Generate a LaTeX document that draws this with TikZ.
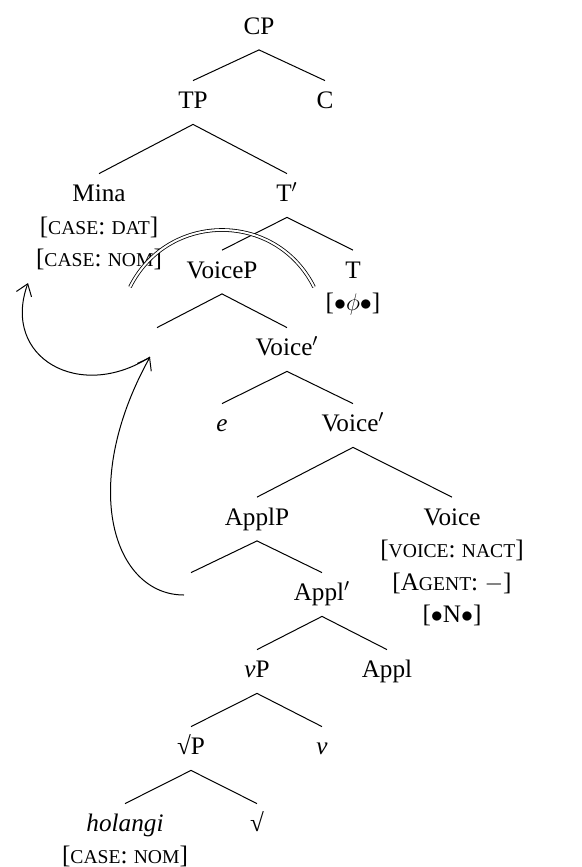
\documentclass[tikz,border=0pt]{standalone}
\usepackage{fontspec}
\setmainfont{Liberation Serif}
\usetikzlibrary{arrows.meta}

\newcommand{\fsc}[1]{{\fontsize{9.8}{11}\selectfont #1}}

\begin{document}
\begin{tikzpicture}[
    x=0.5pt, y=-0.5pt,
    tnode/.style={anchor=base, inner sep=0pt, text height=13.75pt, text depth=7.75pt, font=\fontsize{12.6}{15.5}\selectfont},
    feat/.style={anchor=base, inner sep=0pt, font=\fontsize{12.6}{15.5}\selectfont},
    branch/.style={line width=0.5pt},
    move/.style={-{Straight Barb[length=5.5pt,width=8pt]}, line width=0.5pt},
    agree/.style={double, double distance=1pt, line width=0.4pt}
]
\useasboundingbox (0,0) rectangle (582,867);

% Noeuds
\node[tnode] (cp) at (259,34) {CP};
\node[tnode] (tp) at (193,108.5) {TP};
\node[tnode] (c) at (325,108.5) {C};
\node[tnode] (mina) at (99,201.5) {Mina};
\node[tnode] (tbar) at (287,201.5) {T$'$};
\node[tnode] (voicep) at (222,278) {VoiceP};
\node[tnode] (t) at (353,278) {T};
\node[tnode] (vspec) at (157,355.5) {};
\node[tnode] (voicebar) at (287,355.5) {Voice$'$};
\node[tnode] (e) at (222,431.5) {\textit{e}};
\node[tnode] (voicebarb) at (353,431.5) {Voice$'$};
\node[tnode] (applp) at (257,525) {ApplP};
\node[tnode] (voice) at (452,525) {Voice};
\node[tnode] (aspec) at (191,600.5) {};
\node[tnode] (applbar) at (322,600.5) {Appl$'$};
\node[tnode] (vp) at (257,677.5) {\textit{v}P};
\node[tnode] (appl) at (387,677.5) {Appl};
\node[tnode] (rootp) at (191,754.5) {√P};
\node[tnode] (v) at (322,754.5) {\textit{v}};
\node[tnode] (holangi) at (125,831.5) {\textit{holangi}};
\node[tnode] (root) at (257,831.5) {√};

% Traits
\node[feat] (minadat) at (99,234) {[\fsc{CASE}: \fsc{DAT}]};
\node[feat] (minanom) at (99,266) {[\fsc{CASE}: \fsc{NOM}]};
\node[feat] (tphi) at (353,310.5) {[$\bullet\phi\bullet$]};
\node[feat] (voicenact) at (452,557.5) {[\fsc{VOICE}: \fsc{NACT}]};
\node[feat] (voiceagent) at (452,590) {[A\fsc{GENT}: $-$]};
\node[feat] (voicen) at (452,622.5) {[$\bullet$N$\bullet$]};
\node[feat] (holnom) at (125,863) {[\fsc{CASE}: \fsc{NOM}]};

% Branches
\draw[branch] (cp.south) -- (tp.north);
\draw[branch] (cp.south) -- (c.north);
\draw[branch] (tp.south) -- (mina.north);
\draw[branch] (tp.south) -- (tbar.north);
\draw[branch] (tbar.south) -- (voicep.north);
\draw[branch] (tbar.south) -- (t.north);
\draw[branch] (voicep.south) -- (vspec.north);
\draw[branch] (voicep.south) -- (voicebar.north);
\draw[branch] (voicebar.south) -- (e.north);
\draw[branch] (voicebar.south) -- (voicebarb.north);
\draw[branch] (voicebarb.south) -- (applp.north);
\draw[branch] (voicebarb.south) -- (voice.north);
\draw[branch] (applp.south) -- (aspec.north);
\draw[branch] (applp.south) -- (applbar.north);
\draw[branch] (applbar.south) -- (vp.north);
\draw[branch] (applbar.south) -- (appl.north);
\draw[branch] (vp.south) -- (rootp.north);
\draw[branch] (vp.south) -- (v.north);
\draw[branch] (rootp.south) -- (holangi.north);
\draw[branch] (rootp.south) -- (root.north);

% Mouvements et accord
\coordinate (caseland) at (28,283);
\coordinate (agl) at (130,287);
\coordinate (agr) at (314,287);
\draw[move] ([xshift=-3.5pt,yshift=2.75pt]aspec.base) .. controls +(-70,0) and +(-72,130) .. ([xshift=-3.5pt,yshift=-0.75pt]vspec.base);
\draw[move] ([xshift=-3.5pt,yshift=-0.75pt]vspec.base) .. controls +(-70,45) and +(-27,75) .. (caseland);
\draw[agree] (agl) .. controls +(38,-76) and +(-38,-76) .. (agr);

\end{tikzpicture}
\end{document}
